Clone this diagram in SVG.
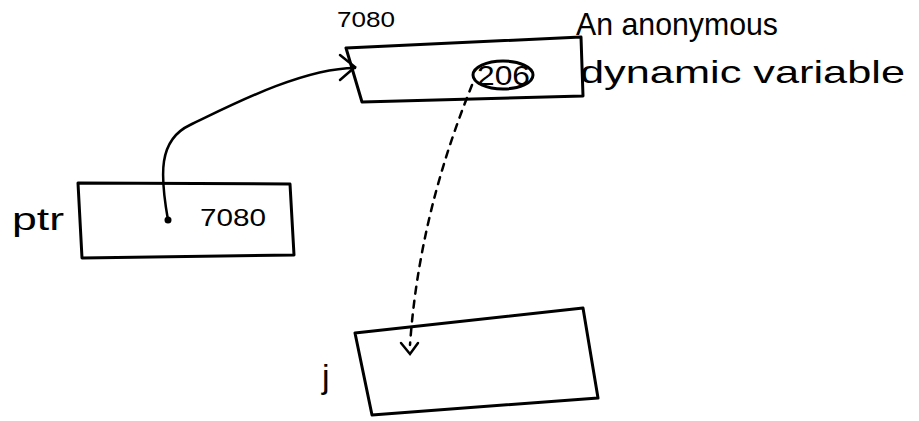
<svg xmlns="http://www.w3.org/2000/svg" width="919" height="421" viewBox="0 0 919 421">
<style>
.box{fill:none;stroke:#000;stroke-width:3;stroke-linejoin:round}
.t{font-family:"Liberation Sans","DejaVu Sans",sans-serif;fill:#000}
.c{fill:none;stroke:#000;stroke-width:2.5;stroke-linecap:round}
</style>
<rect width="919" height="421" fill="#fff"/>
<g id="anon">
<polygon class="box" points="346,48 581,37 583,96 362,102"/>
<text class="t" x="337" y="27" font-size="22" textLength="58" lengthAdjust="spacingAndGlyphs">7080</text>
<text class="t" x="576" y="35" font-size="32" textLength="202" lengthAdjust="spacingAndGlyphs">An anonymous</text>
<text class="t" x="580" y="83" font-size="32" textLength="325" lengthAdjust="spacingAndGlyphs">dynamic variable</text>
<ellipse cx="503" cy="75" rx="30" ry="14" fill="none" stroke="#000" stroke-width="3"/>
<text class="t" x="477" y="85" font-size="27" textLength="53" lengthAdjust="spacingAndGlyphs">206</text>
</g>
<g id="ptr">
<polygon class="box" points="78,183 290,184 294,255 82,258"/>
<text class="t" x="12" y="230" font-size="32" textLength="52" lengthAdjust="spacingAndGlyphs">ptr</text>
<text class="t" x="200" y="226" font-size="24" textLength="66" lengthAdjust="spacingAndGlyphs">7080</text>
<circle cx="168" cy="220" r="3.5" fill="#000"/>
</g>
<g id="j">
<polygon class="box" points="355,333 583,308 598,398 372,415"/>
<text class="t" x="322" y="388" font-size="34">j</text>
</g>
<g id="connectors">
<path class="c" d="M168,220 C160,175 158,140 190,125 S300,68 355,68"/>
<path class="c" d="M340,55 L355,67 L340,80"/>
<path class="c" d="M472,85 C450,140 418,230 410,345" stroke-dasharray="7,7"/>
<path class="c" d="M401,343 L410,354 L418,343"/>
</g>
</svg>
